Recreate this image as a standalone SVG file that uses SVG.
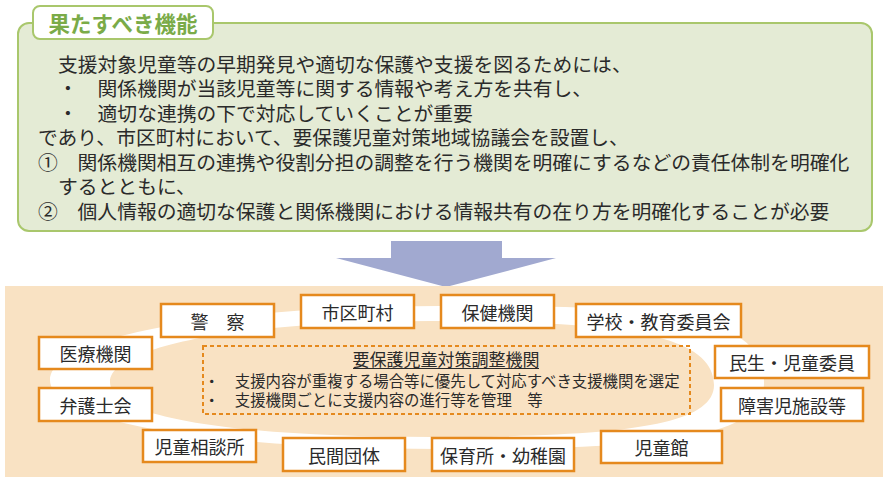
<svg xmlns="http://www.w3.org/2000/svg" width="888" height="482" viewBox="0 0 888 482">
<style>
text{font-family:"Noto Sans CJK JP","Noto Sans",sans-serif;fill:#2a2a2a}
.body{font-size:19.8px}
.node rect{fill:#ffffff;stroke:#e5891d;stroke-width:2.5}
.node text{font-size:18px;text-anchor:middle;dominant-baseline:central}
.small{font-size:15.4px}
</style>
<rect width="888" height="482" fill="#ffffff"/>
<g id="functions">
<rect x="18" y="23" width="854" height="208" rx="11" fill="#e4ebd5" stroke="#a9c76c" stroke-width="2"/>
<rect x="33" y="6" width="180" height="33" rx="7" fill="#ffffff" stroke="#a9c76c" stroke-width="2"/>
<text x="123" y="32" font-size="21.5" font-weight="bold" text-anchor="middle" style="fill:#7aab48">果たすべき機能</text>
<text class="body" x="58" y="71.5">支援対象児童等の早期発見や適切な保護や支援を図るためには、</text>
<text class="body" x="58" y="96">・　関係機関が当該児童等に関する情報や考え方を共有し、</text>
<text class="body" x="58" y="120.5">・　適切な連携の下で対応していくことが重要</text>
<text class="body" x="38" y="145">であり、市区町村において、要保護児童対策地域協議会を設置し、</text>
<text class="body" x="38" y="169.5">①　関係機関相互の連携や役割分担の調整を行う機関を明確にするなどの責任体制を明確化</text>
<text class="body" x="58" y="194">するとともに、</text>
<text class="body" x="38" y="218.5">②　個人情報の適切な保護と関係機関における情報共有の在り方を明確化することが必要</text>
</g>
<polygon id="arrow" points="391,241 502,241 502,258 556,258 446,287 336,258 391,258" fill="#a1a9d0"/>
<rect x="5" y="286" width="878" height="191" fill="#f9e2c3"/>
<path id="ring" fill="#ffffff" fill-rule="evenodd" d="M50,380 C50,335 230,306 440,306 C640,306 764,306 764,383 C764,440 660,449 440,449 C230,449 50,425 50,380 Z M110,382 C110,345 250,321 430,321 C625,321 714,335 714,385 C714,425 625,437 430,437 C250,437 110,420 110,382 Z"/>
<g id="coordinator">
<rect x="203" y="346" width="487" height="68" fill="none" stroke="#e5891d" stroke-width="2" stroke-dasharray="4 3"/>
<text x="446" y="365.5" font-size="17" text-anchor="middle">要保護児童対策調整機関</text>
<line x1="353" y1="368.5" x2="539" y2="368.5" stroke="#2a2a2a" stroke-width="1.2"/>
<text class="small" x="204" y="386.5">・　支援内容が重複する場合等に優先して対応すべき支援機関を選定</text>
<text class="small" x="204" y="406">・　支援機関ごとに支援内容の進行等を管理　等</text>
</g>
<g id="connectors"></g>
<g id="n-police" class="node"><rect x="161" y="304" width="113" height="33"/><text x="217.5" y="320.5">警　察</text></g>
<g id="n-city" class="node"><rect x="301" y="295" width="113" height="33"/><text x="357.5" y="311.5">市区町村</text></g>
<g id="n-health" class="node"><rect x="441" y="295" width="113" height="33"/><text x="497.5" y="311.5">保健機関</text></g>
<g id="n-school" class="node"><rect x="576" y="304" width="165" height="33"/><text x="658.5" y="320.5">学校・教育委員会</text></g>
<g id="n-medical" class="node"><rect x="39" y="337" width="113" height="32"/><text x="95.5" y="353">医療機関</text></g>
<g id="n-lawyer" class="node"><rect x="39" y="388" width="113" height="33"/><text x="95.5" y="404.5">弁護士会</text></g>
<g id="n-jidosodan" class="node"><rect x="143" y="430" width="113" height="32"/><text x="199.5" y="446">児童相談所</text></g>
<g id="n-private" class="node"><rect x="283" y="438" width="122" height="33"/><text x="344" y="454.5">民間団体</text></g>
<g id="n-nursery" class="node"><rect x="432" y="438" width="142" height="33"/><text x="503" y="454.5">保育所・幼稚園</text></g>
<g id="n-jidokan" class="node"><rect x="601" y="431" width="121" height="32"/><text x="661.5" y="447">児童館</text></g>
<g id="n-minsei" class="node"><rect x="715" y="346" width="154" height="32"/><text x="792" y="362">民生・児童委員</text></g>
<g id="n-disability" class="node"><rect x="721" y="388" width="142" height="33"/><text x="792" y="404.5">障害児施設等</text></g>
</svg>
